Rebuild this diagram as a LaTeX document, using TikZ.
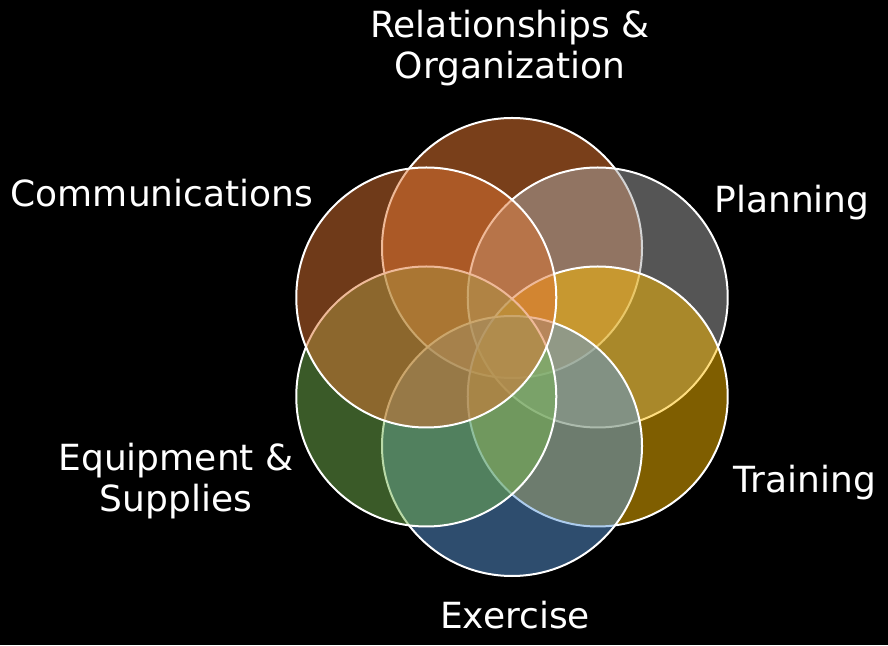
\documentclass[tikz,border=0pt]{standalone}
\usepackage{fontspec}
\setmainfont{DejaVu Sans}
\usetikzlibrary{calc}

\definecolor{relcol}{RGB}{242,126,52}
\definecolor{plancol}{RGB}{170,170,170}
\definecolor{traincol}{RGB}{254,188,0}
\definecolor{exercol}{RGB}{92,154,220}
\definecolor{equipcol}{RGB}{116,180,80}
\definecolor{commcol}{RGB}{222,116,50}

\begin{document}
\begin{tikzpicture}[x=1pt, y=1pt,
                    venn/.style={circle, minimum size=260pt, inner sep=0pt,
                                 draw=white, line width=2pt, fill opacity=0.5},
                    every node/.style={font=\fontsize{36}{41}\selectfont}]
        % background
        \useasboundingbox (0,0) rectangle (888,645);
        \fill[black] (0,0) rectangle (888,645);
        % centre of the ring
        \coordinate (C) at (512,298);
        % circles, clockwise from the top
        \node[venn, fill=relcol]   (rel)   at ($(C)+(90:99)$)   {};
        \node[venn, fill=plancol]  (plan)  at ($(C)+(30:99)$)   {};
        \node[venn, fill=traincol] (train) at ($(C)+(-30:99)$)  {};
        \node[venn, fill=exercol]  (exer)  at ($(C)+(-90:99)$)  {};
        \node[venn, fill=equipcol] (equip) at ($(C)+(-150:99)$) {};
        \node[venn, fill=commcol]  (comm)  at ($(C)+(150:99)$)  {};
        % labels (base = last line)
        \node[white, anchor=base, align=center] (lrel) at (510,566)
              {Relationships \&\\Organization};
        \node[white, anchor=base] (lcomm)  at (162,438) {Communications};
        \node[white, anchor=base] (lplan)  at (792,432) {Planning};
        \node[white, anchor=base] (ltrain) at (805,152) {Training};
        \node[white, anchor=base] (lexer)  at (515,17)  {Exercise};
        \node[white, anchor=base, align=center] (lequip) at (176,133)
              {Equipment \&\\Supplies};
      \end{tikzpicture}
\end{document}
